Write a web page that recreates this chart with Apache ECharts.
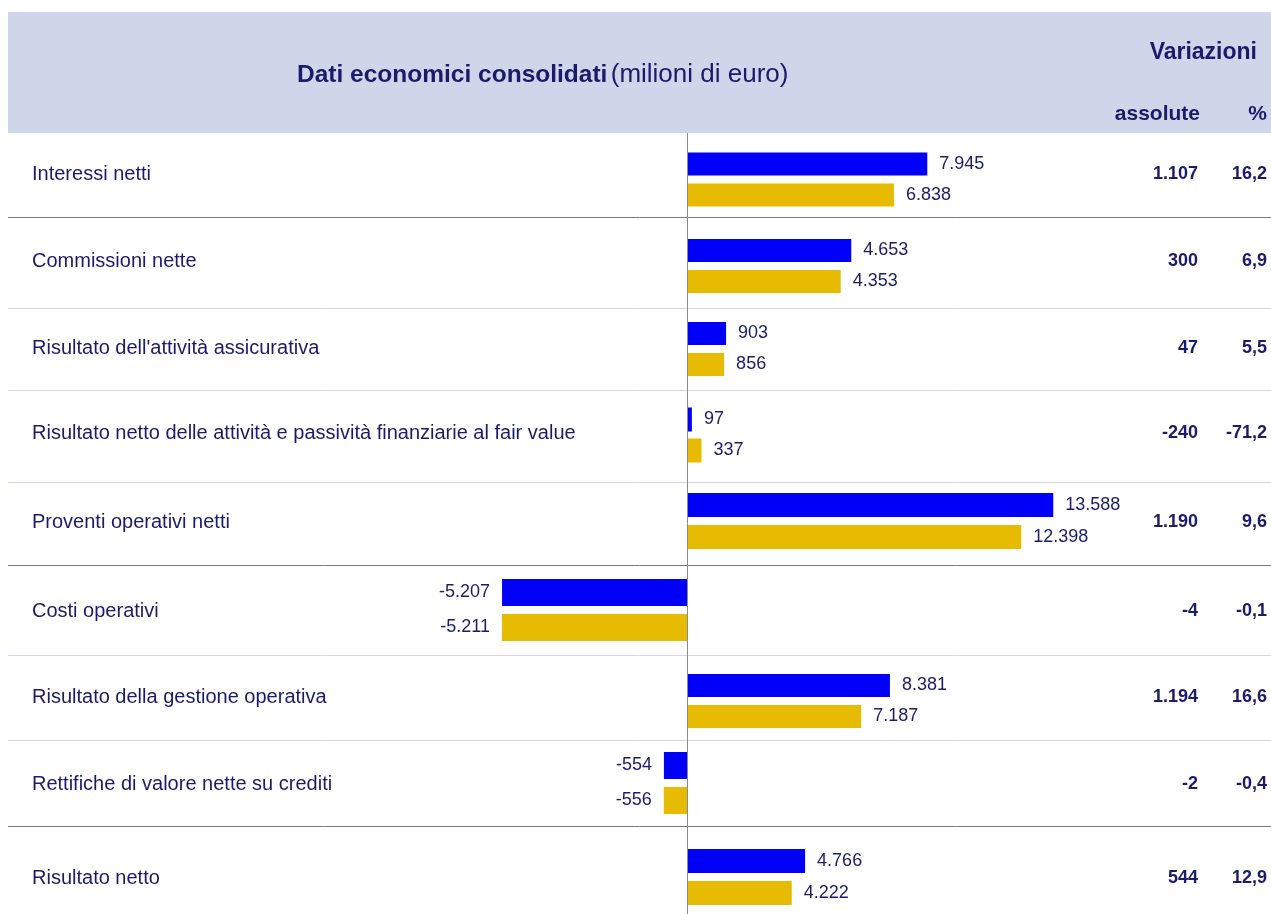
<!DOCTYPE html>
<html><head><meta charset="utf-8">
<script src="https://cdn.jsdelivr.net/npm/echarts@6/dist/echarts.min.js"></script>
<style>html,body{margin:0;padding:0;background:#fff}#c{width:1271px;height:914px}</style>
</head><body><div id="c"></div>
<script>
// ---- data ----
const categories = [
  'Interessi netti',
  'Commissioni nette',
  "Risultato dell'attività assicurativa",
  'Risultato netto delle attività e passività finanziarie al fair value',
  'Proventi operativi netti',
  'Costi operativi',
  'Risultato della gestione operativa',
  'Rettifiche di valore nette su crediti',
  'Risultato netto'
];
const currentValues = [7945, 4653, 903, 97, 13588, -5207, 8381, -554, 4766];   // blue
const previousValues = [6838, 4353, 856, 337, 12398, -5211, 7187, -556, 4222]; // gold
const changeAbs = [1107, 300, 47, -240, 1190, -4, 1194, -2, 544];
const changePct = [16.2, 6.9, 5.5, -71.2, 9.6, -0.1, 16.6, -0.4, 12.9];
const titleBold = 'Dati economici consolidati';
const titleUnit = '(milioni di euro)';
const headVar = 'Variazioni';
const headAbs = 'assolute';
const headPct = '%';

// ---- layout ----
const FONT = '"Liberation Sans", Arial, sans-serif';
const NAVY = '#1b1b6b';
const BLUE = '#0000fa';
const GOLD = '#e6bb00';
const ZERO_X = 688;
const HALF = 400;
const rowLines = [217, 308, 390, 482, 565, 655, 740, 826];
const darkLines = [217, 565, 826];
const barCenters = [179.5, 266, 349, 435, 521, 610, 701, 783, 877];
const textY = [174, 261, 348, 433, 522, 611, 697, 784, 878];
const unitsPerPx = [33.2, 28.5, 23.7, 25, 37.2, 28, 41.5, 23, 40.7];
const barPitch = [31, 31, 31, 31, 32, 35, 31, 35, 32];
const barHeight = [23, 23, 23, 24, 24, 27, 23, 27, 24];

function fmt(n, dec) {
  const neg = n < 0;
  const s = dec ? Math.abs(n).toFixed(dec) : String(Math.round(Math.abs(n)));
  let [ip, fp] = s.split('.');
  ip = ip.replace(/\B(?=(\d{3})+(?!\d))/g, '.');
  return (neg ? '-' : '') + ip + (fp ? ',' + fp : '');
}

const grid = [], xAxis = [], yAxis = [], series = [];
categories.forEach((c, i) => {
  const h = barPitch[i] * 2;
  grid.push({ left: ZERO_X - HALF, width: HALF * 2, top: barCenters[i] - h / 2, height: h });
  const m = HALF * unitsPerPx[i];
  xAxis.push({ type: 'value', gridIndex: i, min: -m, max: m, show: false, splitLine: { show: false } });
  yAxis.push({ type: 'category', gridIndex: i, data: ['cur', 'prev'], inverse: true, show: false });
  series.push({
    type: 'bar', xAxisIndex: i, yAxisIndex: i, barWidth: barHeight[i], silent: true,
    data: [currentValues[i], previousValues[i]].map((v, k) => ({
      value: v,
      itemStyle: { color: k ? GOLD : BLUE },
      label: { position: v < 0 ? 'left' : 'right' }
    })),
    label: { show: true, distance: 12, fontSize: 18, color: NAVY, fontFamily: FONT,
      formatter: p => fmt(p.value) }
  });
});

const graphic = [];
graphic.push({ type: 'rect', z: -10, shape: { x: 8, y: 12, width: 1263, height: 121 }, style: { fill: '#d0d6e9' } });
graphic.push({ type: 'text', x: 297, y: 75, style: {
  text: '{b|' + titleBold + '} {n|' + titleUnit + '}', verticalAlign: 'middle',
  rich: { b: { fontSize: 24.5, fontWeight: 'bold', fill: NAVY, fontFamily: FONT },
          n: { fontSize: 26, fill: NAVY, fontFamily: FONT } } } });
graphic.push({ type: 'text', x: 1257, y: 53, style: { text: headVar, align: 'right', verticalAlign: 'middle',
  font: 'bold 23px ' + FONT, fill: NAVY } });
graphic.push({ type: 'text', x: 1200, y: 114, style: { text: headAbs, align: 'right', verticalAlign: 'middle',
  font: 'bold 21px ' + FONT, fill: NAVY } });
graphic.push({ type: 'text', x: 1267, y: 114, style: { text: headPct, align: 'right', verticalAlign: 'middle',
  font: 'bold 21px ' + FONT, fill: NAVY } });
rowLines.forEach(y => {
  const dark = darkLines.includes(y);
  graphic.push({ type: 'line', shape: { x1: 8, y1: y + 0.5, x2: 1271, y2: y + 0.5 },
    style: { stroke: dark ? '#7a7a7a' : '#d4d6ea', lineWidth: 1 } });
});
graphic.push({ type: 'line', z: 10, shape: { x1: 687.5, y1: 133, x2: 687.5, y2: 914 },
  style: { stroke: '#8a8a8a', lineWidth: 1 } });
categories.forEach((c, i) => {
  graphic.push({ type: 'text', x: 32, y: textY[i], style: { text: c, verticalAlign: 'middle',
    font: '20px ' + FONT, fill: NAVY } });
  graphic.push({ type: 'text', x: 1198, y: textY[i], style: { text: fmt(changeAbs[i]), align: 'right',
    verticalAlign: 'middle', font: 'bold 18px ' + FONT, fill: NAVY } });
  graphic.push({ type: 'text', x: 1267, y: textY[i], style: { text: fmt(changePct[i], 1), align: 'right',
    verticalAlign: 'middle', font: 'bold 18px ' + FONT, fill: NAVY } });
});

const chart = echarts.init(document.getElementById('c'), null, { renderer: 'canvas' });
chart.setOption({ animation: false, backgroundColor: '#fff', grid, xAxis, yAxis, series, graphic });
</script></body></html>
